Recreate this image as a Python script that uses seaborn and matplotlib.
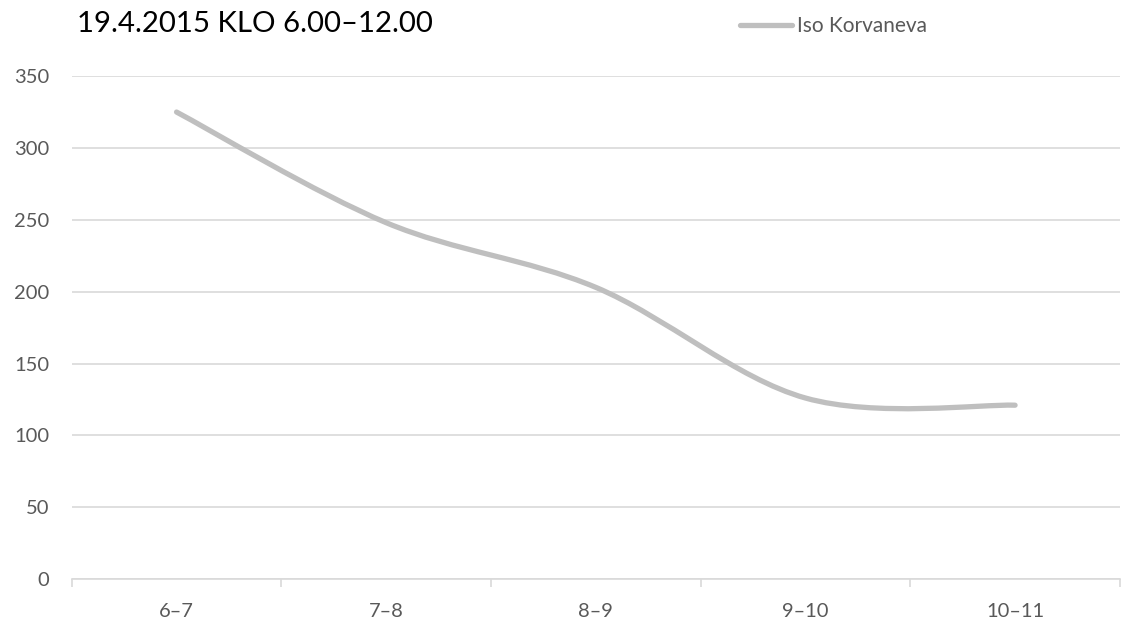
import matplotlib
matplotlib.use("Agg")
import matplotlib.pyplot as plt
from matplotlib.path import Path
from matplotlib.patches import PathPatch
from matplotlib.lines import Line2D
import seaborn as sns
import pandas as pd

# Hourly counts, morning of 19 April 2015
hours = ["6–7", "7–8", "8–9", "9–10", "10–11"]
counts = [325, 248, 203, 126, 121]
series_name = "Iso Korvaneva"
title = "19.4.2015 KLO 6.00–12.00"
y_ticks = [0, 50, 100, 150, 200, 250, 300, 350]

LINE_COLOR = "#bfbfbf"
GRID_COLOR = "#d9d9d9"
TEXT_COLOR = "#595959"

sns.set_theme(style="white")
plt.rcParams["font.family"] = ["Lato", "DejaVu Sans"]

df = pd.DataFrame({"hour": hours, "count": counts})

fig = plt.figure(figsize=(11.21, 6.24), dpi=100)
ax = fig.add_axes([0.064, 0.072, 0.935, 0.806])

# seaborn places the categories on the axis; the line itself is then
# re-drawn as a smooth Bezier curve through the same data points
sns.lineplot(data=df, x="hour", y="count", ax=ax, sort=False,
             color=LINE_COLOR, linewidth=3.6)
base = ax.lines[0]
ys = list(map(float, base.get_ydata()))
xs = [float(i) for i in range(len(ys))]
base.set_visible(False)

# Catmull-Rom style control points (tension 1/6), as in spreadsheet "smoothed lines"
verts = [(xs[0], ys[0])]
codes = [Path.MOVETO]
n = len(xs)
for i in range(n - 1):
    x0, y0 = (xs[i - 1], ys[i - 1]) if i > 0 else (xs[i], ys[i])
    x1, y1 = xs[i], ys[i]
    x2, y2 = xs[i + 1], ys[i + 1]
    x3, y3 = (xs[i + 2], ys[i + 2]) if i + 2 < n else (x2, y2)
    c1 = (x1 + (x2 - x0) / 6.0, y1 + (y2 - y0) / 6.0)
    c2 = (x2 - (x3 - x1) / 6.0, y2 - (y3 - y1) / 6.0)
    verts += [c1, c2, (x2, y2)]
    codes += [Path.CURVE4] * 3
curve = PathPatch(Path(verts, codes), facecolor="none", edgecolor=LINE_COLOR,
                  linewidth=3.8, capstyle="round", joinstyle="round",
                  transform=ax.transData, zorder=3)
ax.add_patch(curve)

ax.set_xlim(-0.5, len(hours) - 0.5)
ax.set_ylim(0, 350)
ax.set_yticks(y_ticks)
ax.set_xlabel("")
ax.set_ylabel("")

# horizontal gridlines, no frame apart from the category axis
ax.yaxis.grid(True, color=GRID_COLOR, linewidth=1.2)
ax.xaxis.grid(False)
for side in ["top", "right", "left"]:
    ax.spines[side].set_visible(False)
ax.spines["bottom"].set_color(GRID_COLOR)
ax.spines["bottom"].set_linewidth(1.2)

# category ticks sit between the categories
ax.set_xticks(range(len(hours)))
ax.set_xticklabels(hours)
ax.tick_params(axis="x", which="major", length=0, pad=17,
               labelsize=14.5, labelcolor=TEXT_COLOR)
ax.set_xticks([i - 0.5 for i in range(len(hours) + 1)], minor=True)
ax.tick_params(axis="x", which="minor", length=6, width=1.2,
               color=GRID_COLOR, direction="out", bottom=True)
ax.tick_params(axis="y", length=0, pad=16, labelsize=14.5,
               labelcolor=TEXT_COLOR)

fig.text(0.0687, 0.962, title, fontsize=21.2, color="black",
         ha="left", va="center", family=["Lato", "DejaVu Sans"])

handle = Line2D([], [], color=LINE_COLOR, linewidth=3.8,
                solid_capstyle="round")
leg = fig.legend([handle], [series_name], loc="center left",
                 bbox_to_anchor=(0.653, 0.958), frameon=False,
                 fontsize=15, handlelength=2.5, handletextpad=0.2,
                 borderaxespad=0)
for t in leg.get_texts():
    t.set_color(TEXT_COLOR)

fig.savefig("out.png", dpi=100, facecolor="white")
